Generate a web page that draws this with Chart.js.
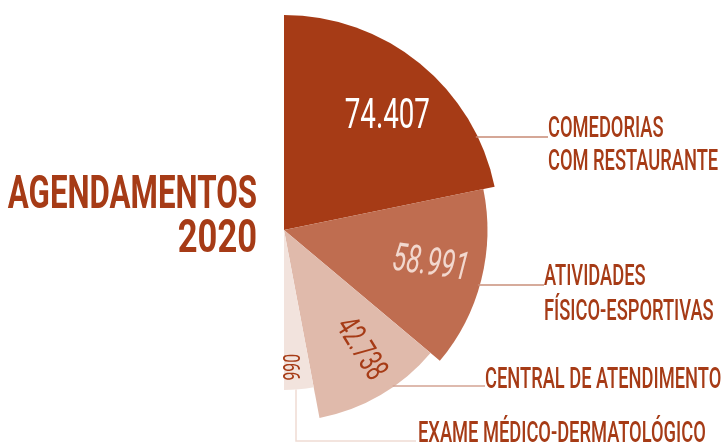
<!DOCTYPE html>
<html>
<head>
<meta charset="utf-8">
<script src="https://cdn.jsdelivr.net/npm/chart.js@4.4.0/dist/chart.umd.min.js"></script>
<style>
  html, body { margin: 0; padding: 0; background: #fff; overflow: hidden; }
  #wrap { position: relative; width: 728px; height: 460px; }
</style>
</head>
<body>
<div id="wrap"><canvas id="mainChart"></canvas></div>
<script>
// data
const categories = ['COMEDORIAS COM RESTAURANTE', 'ATIVIDADES FÍSICO-ESPORTIVAS', 'CENTRAL DE ATENDIMENTO', 'EXAME MÉDICO-DERMATOLÓGICO'];
const labelLines = [['COMEDORIAS', 'COM RESTAURANTE'], ['ATIVIDADES', 'FÍSICO-ESPORTIVAS'], ['CENTRAL DE ATENDIMENTO'], ['EXAME MÉDICO-DERMATOLÓGICO']];
const values = [74407, 58991, 42738, 990];
const valueTexts = ['74.407', '58.991', '42.738', '990'];
const sliceAngles = [78.4, 51.6, 39.3, 10.7];
const titleLines = ['AGENDAMENTOS', '2020'];

const colors = ['#a63b16', '#bf6d50', '#e0baab', '#f2e3dd'];
const DARK = '#a63b16';

// value label placement (polar, relative to each slice)
const valStyle = [
    {frac: 0.71, dAng: 3.4, rot: 0, size: 42, color: '#ffffff', italic: false},
    {frac: 0.74, dAng: -0.8, rot: 8, size: 39, color: '#f2d8ce', italic: true},
    {frac: 0.74, dAng: -2.1, rot: 58, size: 33, color: DARK, italic: false},
    {frac: 0.86, dAng: 1.3, rot: -90, size: 24, color: DARK, italic: false}
];
// category label anchors
const catStyle = [
    {x: 548, ys: [137, 170], lineY: 137},
    {x: 544, ys: [285, 320], lineY: 285},
    {x: 485, ys: [388], lineY: 386},
    {x: 418, ys: [442], lineY: 441}
];
const lineColors = ['#c78a74', '#c98f7a', '#d3a393', '#efdcd4'];
const SQ = 0.66;

function squeezedText(ctx, text, x, y, font, align, sx) {
    ctx.save();
    ctx.font = font;
    ctx.translate(x, y);
    ctx.scale(sx, 1);
    ctx.textAlign = align;
    ctx.fillText(text, 0, 0);
    ctx.restore();
}

const decorPlugin = {
    id: 'decor',
    afterDatasetsDraw(chart) {
        const ctx = chart.ctx;
        const arcs = chart.getDatasetMeta(0).data;
        const scale = chart.scales.r;
        const cx = scale.xCenter, cy = scale.yCenter;

        // value labels
        arcs.forEach((arc, i) => {
            const s = valStyle[i];
            const a = (arc.startAngle + arc.endAngle) / 2 + s.dAng * Math.PI / 180;
            const r = arc.outerRadius * s.frac;
            ctx.save();
            ctx.translate(cx + Math.cos(a) * r, cy + Math.sin(a) * r);
            ctx.rotate(s.rot * Math.PI / 180);
            ctx.scale(SQ, 1);
            ctx.fillStyle = s.color;
            ctx.font = (s.italic ? 'italic ' : '') + '400 ' + s.size + 'px Roboto';
            ctx.textAlign = 'center';
            ctx.textBaseline = 'middle';
            ctx.fillText(valueTexts[i], 0, 0);
            ctx.restore();
        });

        // leader lines
        ctx.save();
        ctx.lineWidth = 1.5;
        arcs.forEach((arc, i) => {
            const c = catStyle[i];
            ctx.strokeStyle = lineColors[i];
            ctx.beginPath();
            if (i < 3) {
                const dy = c.lineY - cy;
                const x0 = cx + Math.sqrt(Math.max(arc.outerRadius * arc.outerRadius - dy * dy, 0));
                ctx.moveTo(x0 - 2, c.lineY);
                ctx.lineTo(c.x, c.lineY);
            } else {
                const lx = cx + 12;
                const y0 = cy + Math.sqrt(arc.outerRadius * arc.outerRadius - 144);
                ctx.moveTo(lx, y0);
                ctx.lineTo(lx, c.lineY);
                ctx.lineTo(c.x - 2, c.lineY);
            }
            ctx.stroke();
        });
        ctx.restore();

        // category labels
        ctx.fillStyle = DARK;
        labelLines.forEach((lines, i) => {
            lines.forEach((t, j) => {
                squeezedText(ctx, t, catStyle[i].x, catStyle[i].ys[j], '500 30px Roboto', 'left', 0.61);
            });
        });

        // title
        squeezedText(ctx, titleLines[0], 257, 208, '700 46px Roboto', 'right', 0.68);
        squeezedText(ctx, titleLines[1], 257, 252, '700 46px Roboto', 'right', 0.75);
    }
};

const ctxMain = document.getElementById('mainChart').getContext('2d');
window.mainChart = new Chart(ctxMain, {
    type: 'polarArea',
    data: {
        labels: categories,
        datasets: [{
            data: values,
            backgroundColor: colors,
            borderWidth: 0,
            angle: sliceAngles
        }]
    },
    options: {
        responsive: true,
        maintainAspectRatio: false,
        animation: false,
        layout: {padding: {left: 69, right: 229, top: 15, bottom: 15}},
        plugins: {legend: {display: false}, tooltip: {enabled: false}},
        scales: {
            r: {
                startAngle: 0,
                min: -212600,
                max: 74407,
                ticks: {display: false},
                grid: {display: false},
                angleLines: {display: false},
                pointLabels: {display: false}
            }
        }
    },
    plugins: [decorPlugin]
});
</script>
</body>
</html>
